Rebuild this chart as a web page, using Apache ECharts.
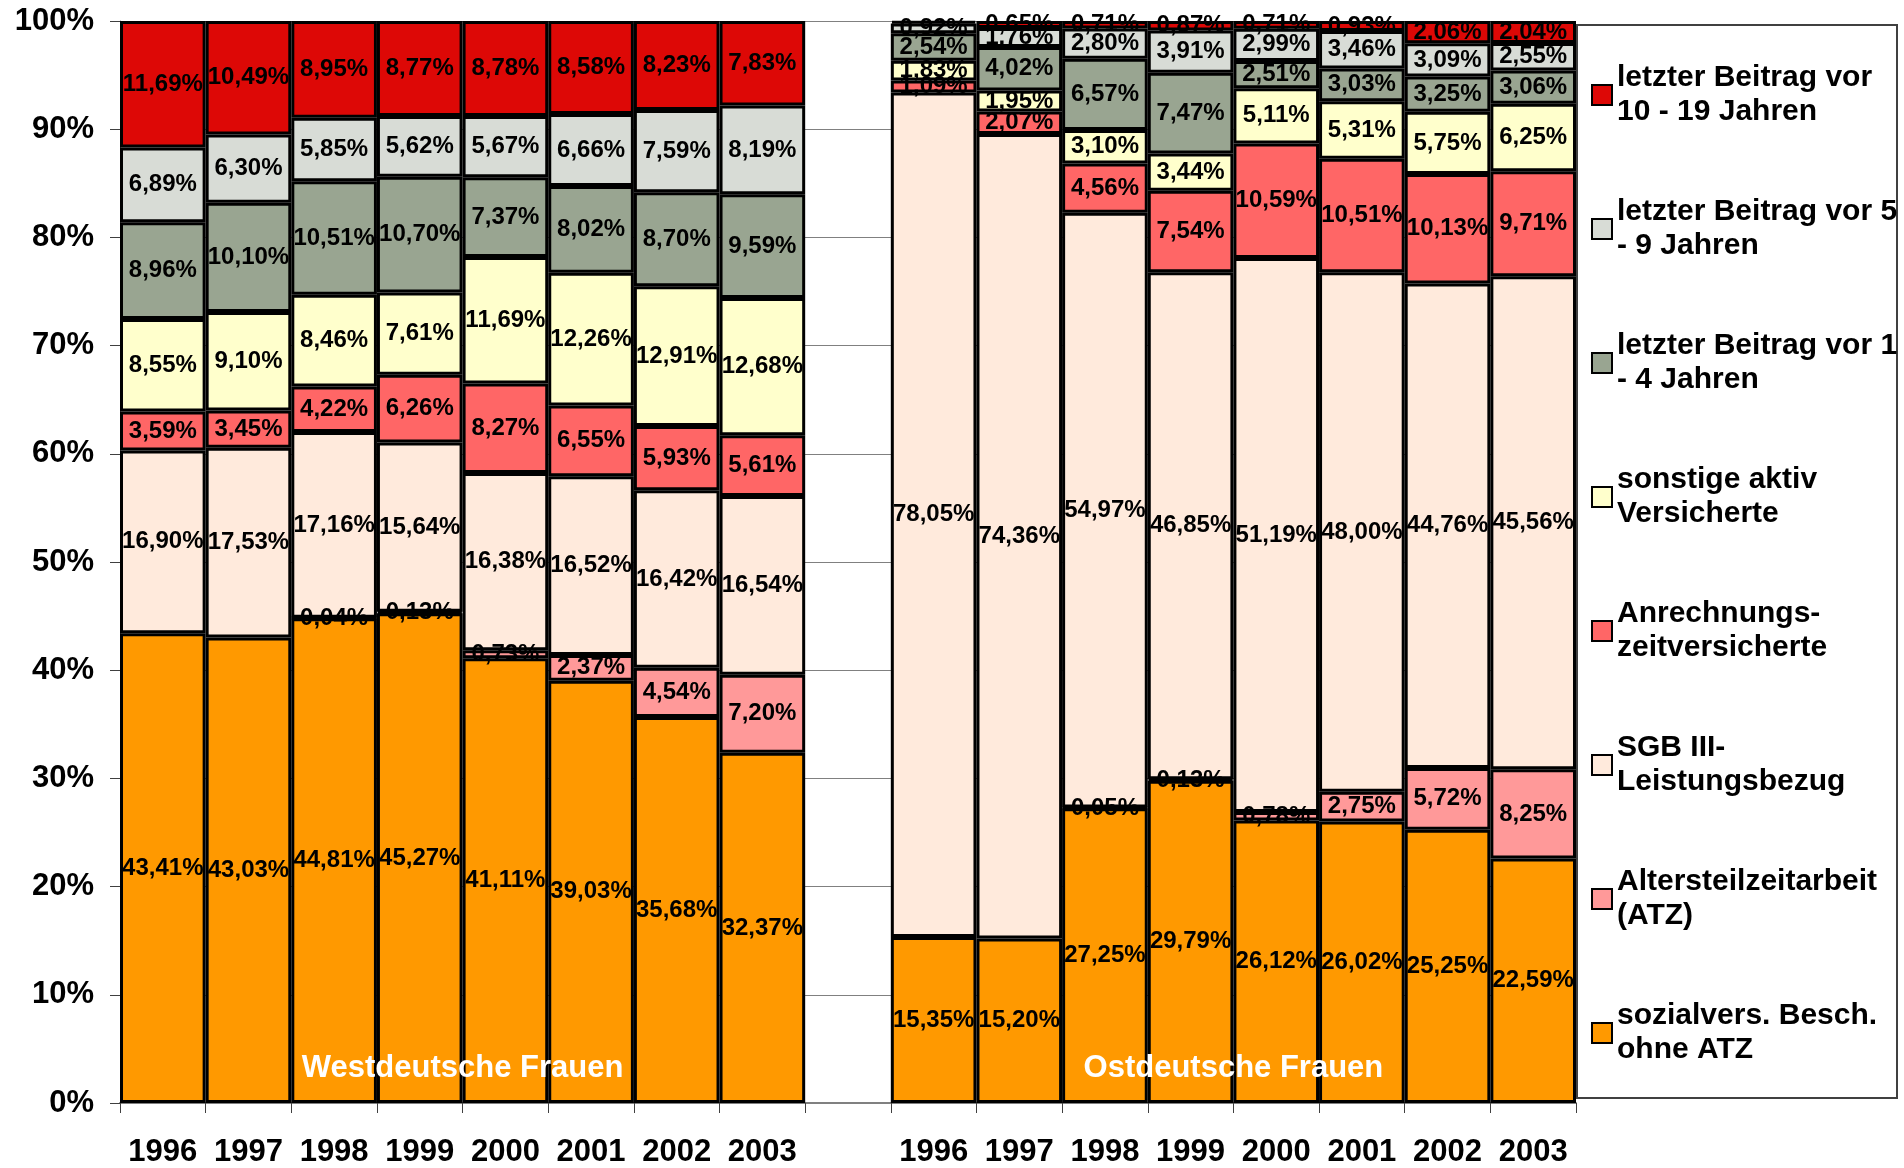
<!DOCTYPE html>
<html><head><meta charset="utf-8">
<script src="https://cdn.jsdelivr.net/npm/echarts@6/dist/echarts.min.js"></script>
<style>html,body{margin:0;padding:0;background:#fff}#c{width:1904px;height:1168px}</style>
</head><body><div id="c"></div>
<script>
// ---- data ----
const years = ['1996','1997','1998','1999','2000','2001','2002','2003'];
const groupLabels = ['Westdeutsche Frauen', 'Ostdeutsche Frauen'];
const yTicks = [0,10,20,30,40,50,60,70,80,90,100];

// bottom -> top stacking order
const names = [
  'sozialvers. Besch.\nohne ATZ',
  'Altersteilzeitarbeit\n(ATZ)',
  'SGB III-\nLeistungsbezug',
  'Anrechnungs-\nzeitversicherte',
  'sonstige aktiv\nVersicherte',
  'letzter Beitrag vor 1\n- 4 Jahren',
  'letzter Beitrag vor 5\n- 9 Jahren',
  'letzter Beitrag vor\n10 - 19 Jahren'
];
const colors = ['#FF9900','#FF9999','#FFEADC','#FF6666','#FFFFCC','#99A591','#D8DCD6','#DD0806'];

const westBesch   = [43.41,43.03,44.81,45.27,41.11,39.03,35.68,32.37];
const westATZ     = [null,null,0.04,0.13,0.73,2.37,4.54,7.20];
const westSGB     = [16.90,17.53,17.16,15.64,16.38,16.52,16.42,16.54];
const westAnr     = [3.59,3.45,4.22,6.26,8.27,6.55,5.93,5.61];
const westSonst   = [8.55,9.10,8.46,7.61,11.69,12.26,12.91,12.68];
const westB14     = [8.96,10.10,10.51,10.70,7.37,8.02,8.70,9.59];
const westB59     = [6.89,6.30,5.85,5.62,5.67,6.66,7.59,8.19];
const westB1019   = [11.69,10.49,8.95,8.77,8.78,8.58,8.23,7.83];

const eastBesch   = [15.35,15.20,27.25,29.79,26.12,26.02,25.25,22.59];
const eastATZ     = [null,null,0.05,0.13,0.78,2.75,5.72,8.25];
const eastSGB     = [78.05,74.36,54.97,46.85,51.19,48.00,44.76,45.56];
const eastAnr     = [1.09,2.07,4.56,7.54,10.59,10.51,10.13,9.71];
const eastSonst   = [1.83,1.95,3.10,3.44,5.11,5.31,5.75,6.25];
const eastB14     = [2.54,4.02,6.57,7.47,2.51,3.03,3.25,3.06];
const eastB59     = [0.92,1.76,2.80,3.91,2.99,3.46,3.09,2.55];
const eastB1019   = [0.22,0.65,0.71,0.87,0.71,0.93,2.06,2.04];
const eastB1019NoLabel = [true,false,false,false,false,false,false,false];

// ---- build ----
const west = [westBesch,westATZ,westSGB,westAnr,westSonst,westB14,westB59,westB1019];
const east = [eastBesch,eastATZ,eastSGB,eastAnr,eastSonst,eastB14,eastB59,eastB1019];
const categories = years.concat(['']).concat(years);

const fmt = v => (v == null || v === 0) ? '' : v.toFixed(2).replace('.', ',') + '%';

const series = names.map((n, i) => {
  let eData = east[i].map((v, k) => (i === 7 && eastB1019NoLabel[k]) ? {value: v, label: {show: false}} : v);
  return {
    name: n,
    type: 'bar',
    stack: 'total',
    barCategoryGap: 0,
    data: west[i].concat([null]).concat(eData),
    itemStyle: {color: colors[i], borderColor: '#000', borderWidth: 3},
    label: {
      show: true, position: 'inside', color: '#000',
      fontFamily: 'Liberation Sans, Arial, sans-serif', fontWeight: 'bold', fontSize: 24,
      formatter: p => fmt(p.value)
    },
    emphasis: {disabled: true}
  };
});

const chart = echarts.init(document.getElementById('c'), null, {renderer: 'canvas'});
const FONT = 'Liberation Sans, Arial, sans-serif';
chart.setOption({
  animation: false,
  backgroundColor: '#fff',
  grid: {left: 120, top: 21, right: 328, bottom: 63, containLabel: false},
  xAxis: {
    type: 'category', data: categories,
    axisLine: {show: true, lineStyle: {color: '#808080', width: 2}},
    axisTick: {show: true, interval: 0, length: 10, lineStyle: {color: '#404040', width: 1}},
    axisLabel: {interval: 0, margin: 34, color: '#000', fontFamily: FONT, fontWeight: 'bold', fontSize: 31}
  },
  yAxis: {
    type: 'value', min: 0, max: 100, interval: 10,
    axisLine: {show: true, lineStyle: {color: '#808080', width: 1}},
    axisTick: {show: true, length: 10, lineStyle: {color: '#404040', width: 1}},
    splitLine: {show: true, lineStyle: {color: '#808080', width: 1}},
    axisLabel: {margin: 26, color: '#000', fontFamily: FONT, fontWeight: 'bold', fontSize: 31, formatter: v => v + '%'}
  },
  legend: {
    orient: 'vertical', left: 1591, top: 44, padding: 0,
    data: names.slice().reverse(),
    itemWidth: 20, itemHeight: 20, itemGap: 32, icon: 'rect',
    itemStyle: {borderColor: '#000', borderWidth: 2},
    selectedMode: false,
    textStyle: {color: '#000', fontFamily: FONT, fontWeight: 'bold', fontSize: 30, lineHeight: 34, padding: [34, 0, 0, 0]}
  },
  series: series
});

// frame around legend and group captions
const gx = chart.convertToPixel({xAxisIndex: 0}, 7);
const yTop = chart.convertToPixel({yAxisIndex: 0}, 100);
const yBot = chart.convertToPixel({yAxisIndex: 0}, 0);
const catW = chart.convertToPixel({xAxisIndex: 0}, 1) - chart.convertToPixel({xAxisIndex: 0}, 0);
const rightEdge = gx + catW * 9.5 ;
const xw = (chart.convertToPixel({xAxisIndex: 0}, 3) + chart.convertToPixel({xAxisIndex: 0}, 4)) / 2;
const xe = (chart.convertToPixel({xAxisIndex: 0}, 12) + chart.convertToPixel({xAxisIndex: 0}, 13)) / 2;
const yLab = chart.convertToPixel({yAxisIndex: 0}, 3.2);
chart.setOption({
  graphic: [
    {type: 'rect', z: 0, shape: {x: rightEdge + 1, y: yTop + 4, width: 320, height: yBot - yTop - 9},
     style: {fill: 'none', stroke: '#404040', lineWidth: 2}},
    {type: 'text', z: 100, x: xw, y: yLab, style: {text: groupLabels[0], fill: '#fff', font: 'bold 31px ' + FONT, align: 'center', verticalAlign: 'middle'}},
    {type: 'text', z: 100, x: xe, y: yLab, style: {text: groupLabels[1], fill: '#fff', font: 'bold 31px ' + FONT, align: 'center', verticalAlign: 'middle'}}
  ]
});
</script>
</body></html>
